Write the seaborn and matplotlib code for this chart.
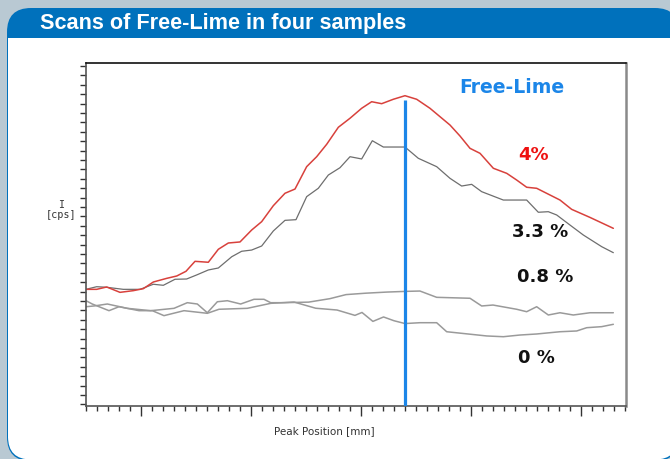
import matplotlib
matplotlib.use("Agg")
import matplotlib.pyplot as plt
from matplotlib.patches import FancyBboxPatch, Rectangle
import numpy as np
import pandas as pd
import seaborn as sns

# ---------------- data ----------------
x_red = [0, 0.97, 1.88, 3.09, 4.30, 5.21, 6.12, 7.34, 8.25, 9.09, 9.91, 11.12, 12.03, 12.94,
         14.00, 15.06, 15.97, 17.03, 18.09, 19.00, 20.06, 20.97, 21.88, 22.94, 24.00, 25.06,
         25.97, 26.88, 27.94, 29.00, 30.06, 31.27, 32.18, 33.09, 34.00, 34.91, 35.82, 37.03,
         38.25, 39.15, 40.06, 40.97, 43.09, 44.15, 45.82, 47.94]
y_red = [12.23, 12.23, 12.48, 11.91, 12.09, 12.30, 13.01, 13.40, 13.65, 14.15, 15.21, 15.11,
         16.49, 17.16, 17.27, 18.54, 19.43, 21.13, 22.45, 22.90, 25.28, 26.34, 27.66, 29.47,
         30.43, 31.49, 32.19, 31.98, 32.45, 32.83, 32.45, 31.49, 30.60, 29.71, 28.54, 27.23,
         26.70, 25.11, 24.57, 23.86, 23.09, 22.98, 21.73, 20.74, 19.88, 18.72]

x_33 = [0, 0.97, 1.88, 3.39, 4.91, 6.12, 7.03, 8.09, 9.15, 10.06, 11.12, 12.03, 13.25, 14.15,
        15.06, 15.97, 17.03, 18.09, 19.09, 20.06, 21.12, 22.03, 23.09, 24.00, 25.06, 26.03,
        27.03, 29.00, 30.21, 31.88, 33.09, 34.15, 35.06, 35.97, 37.94, 40.06, 41.12, 42.03,
        42.79, 44.00, 45.21, 46.88, 47.94]
y_33 = [12.23, 12.51, 12.45, 12.23, 12.23, 12.77, 12.66, 13.30, 13.33, 13.76, 14.29, 14.50,
        15.70, 16.28, 16.41, 16.84, 18.44, 19.57, 19.64, 22.09, 22.98, 24.39, 25.17, 26.34,
        26.10, 28.04, 27.37, 27.37, 26.17, 25.28, 24.04, 23.22, 23.40, 22.62, 21.73, 21.73,
        20.43, 20.49, 20.14, 19.07, 18.01, 16.77, 16.13]

x_08 = [0, 0.73, 1.94, 3.75, 5.88, 8.00, 9.21, 10.12, 11.03, 11.94, 12.85, 14.06, 15.27, 16.18,
        16.79, 18.00, 20.24, 22.18, 23.64, 25.43, 27.36, 29.00, 30.36, 31.88, 34.91, 35.97,
        37.00, 39.15, 40.06, 40.97, 42.03, 43.09, 44.30, 45.82, 47.94]
y_08 = [10.38, 10.46, 10.67, 10.21, 9.96, 10.21, 10.81, 10.67, 9.74, 10.91, 11.02, 10.67, 11.17,
        11.17, 10.81, 10.81, 10.87, 11.24, 11.67, 11.82, 11.94, 12.01, 12.05, 11.38, 11.28,
        10.46, 10.56, 10.11, 9.85, 10.38, 9.50, 9.74, 9.50, 9.74, 9.74]

x_0 = [0, 0.57, 2.09, 3.00, 4.82, 6.03, 7.09, 8.91, 11.03, 12.09, 14.66, 16.79, 18.91, 20.88,
       22.82, 24.45, 25.09, 26.08, 27.05, 28.00, 29.00, 30.36, 31.88, 32.79, 36.43, 37.94,
       39.45, 40.97, 43.09, 44.61, 45.52, 46.88, 47.94]
y_0 = [11.02, 10.67, 9.96, 10.38, 9.96, 9.96, 9.43, 9.96, 9.68, 10.11, 10.21, 10.74, 10.88,
       10.22, 10.03, 9.46, 9.77, 8.82, 9.29, 8.89, 8.59, 8.68, 8.68, 7.72, 7.27, 7.19, 7.37,
       7.48, 7.72, 7.80, 8.15, 8.26, 8.51]

free_lime_x = 29.0
free_lime_top = 32.4

labels = ["Free-Lime", "4%", "3.3 %", "0.8 %", "0 %"]
label_x = [38.73, 40.64, 41.27, 41.73, 40.91]
label_y = [33.65, 26.52, 18.33, 13.54, 4.93]
label_colors = ["#1c86e8", "#ee1111", "#111111", "#111111", "#111111"]
label_sizes = [13.6, 13, 13, 13, 13]

title = "Scans of Free-Lime in four samples"
xlabel = "Peak Position [mm]"
ylabel = "I\n[cps]"

# ---------------- figure ----------------
sns.set_theme(style="white")
plt.rcParams['font.family'] = ['DejaVu Sans']

W, H = 670, 459
fig = plt.figure(figsize=(W / 100, H / 100), dpi=100)

# background frame
bg = fig.add_axes([0, 0, 1, 1])
bg.set_xlim(0, W)
bg.set_ylim(H, 0)
bg.axis("off")
bg.add_patch(Rectangle((0, 0), W, H, fc="#b9c9d3", ec="none"))
bg.add_patch(FancyBboxPatch((7, 8), 672, 453, boxstyle="round,pad=0,rounding_size=24",
                            fc="#0071bc", ec="none"))
bg.add_patch(Rectangle((8, 38), 670, 400, fc="white", ec="none"))
bg.add_patch(FancyBboxPatch((8, 200), 670, 259.5, boxstyle="round,pad=0,rounding_size=23",
                            fc="white", ec="none"))
bg.text(40, 23.5, title, color="white", fontsize=15.6, fontweight="bold",
        family=["Liberation Sans Narrow", "Liberation Sans", "DejaVu Sans"],
        va="center", ha="left")

# main plot
left, right, top, bottom = 86, 626, 63, 406
ax = fig.add_axes([left / W, (H - bottom) / H, (right - left) / W, (bottom - top) / H])
ax.set_facecolor("white")

series = [
    (x_0, y_0, "#9a9a9a", 1.1),
    (x_08, y_08, "#9a9a9a", 1.1),
    (x_33, y_33, "#6e6e6e", 0.9),
    (x_red, y_red, "#d8413c", 1.1),
]
for xs, ys, c, lw in series:
    df = pd.DataFrame({"x": xs, "y": ys})
    sns.lineplot(data=df, x="x", y="y", ax=ax, color=c, linewidth=lw,
                 sort=False, estimator=None)

ax.vlines(free_lime_x, -0.5, free_lime_top, color="#1c86e8", linewidth=2.3, zorder=5)

for t, lx, ly, c, fs in zip(labels, label_x, label_y, label_colors, label_sizes):
    ax.text(lx, ly, t, color=c, fontsize=fs, fontweight="bold", ha="center", va="center")

ax.set_xlim(0, (right - left) / 11)
ax.set_ylim(-(bottom - 404.3) / 9.4, (404.3 - top) / 9.4)

ax.set_xticks([5, 15, 25, 35, 45])
ax.set_xticks(np.arange(0, 50), minor=True)
ax.set_yticks(np.arange(0, 37))
ax.tick_params(axis="x", which="major", direction="out", length=7, width=1, color="#333333",
               bottom=True, labelbottom=False)
ax.tick_params(axis="x", which="minor", direction="out", length=3.5, width=1, color="#333333",
               bottom=True)
ax.tick_params(axis="y", which="major", direction="out", length=4, width=1, color="#333333",
               left=True, labelleft=False)

ax.set_xlabel(xlabel, fontsize=7.5, color="#333333")
ax.xaxis.set_label_coords((324 - left) / (right - left), -(426 - bottom) / (bottom - top))
ax.set_ylabel(ylabel, fontsize=7.3, color="#333333", rotation=0, ha="center", va="center",
              linespacing=1.0, family=["DejaVu Sans Mono", "DejaVu Sans"])
ax.yaxis.set_label_coords((61 - left) / (right - left), (bottom - 210) / (bottom - top))

ax.spines["top"].set_color("#111111")
ax.spines["top"].set_linewidth(1.2)
ax.spines["right"].set_color("#8a8a8a")
ax.spines["right"].set_linewidth(1.8)
ax.spines["left"].set_color("#555555")
ax.spines["left"].set_linewidth(1.2)
ax.spines["bottom"].set_color("#555555")
ax.spines["bottom"].set_linewidth(1.2)
for s in ax.spines.values():
    s.set_visible(True)

fig.savefig("out.png", dpi=100)
